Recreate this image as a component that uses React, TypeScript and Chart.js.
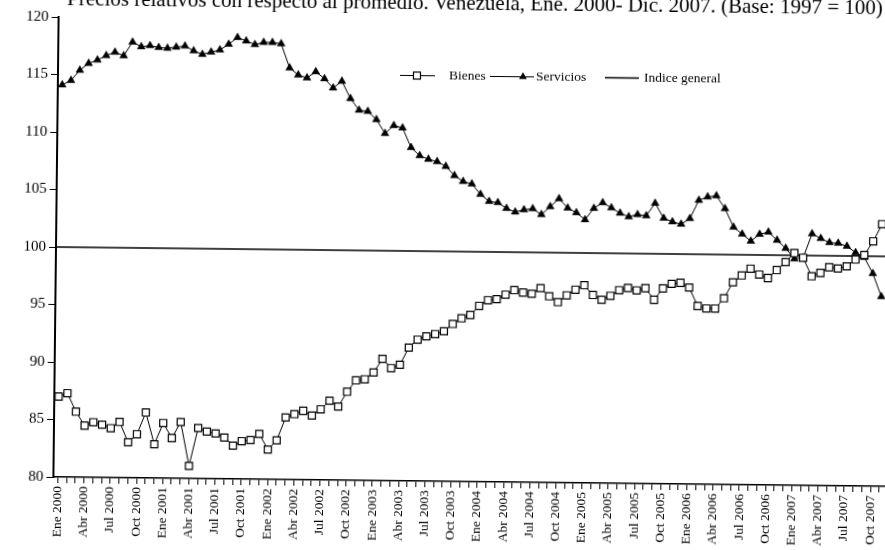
import React, { useEffect, useRef } from "react";
import { Chart, registerables } from "chart.js";

Chart.register(...registerables);

const MONTHS = ["Ene", "Feb", "Mar", "Abr", "May", "Jun", "Jul", "Ago", "Sep", "Oct", "Nov", "Dic"];
const YEARS = [2000, 2001, 2002, 2003, 2004, 2005, 2006, 2007];
const categories: string[] = YEARS.flatMap((y) => MONTHS.map((m) => `${m} ${y}`));

// Monthly values, Ene 2000 onward (the picture is cropped after Nov 2007)
const bienes = [
  87.0, 87.3, 85.7, 84.5, 84.8, 84.6, 84.3, 84.85, 83.1, 83.8, 85.7, 82.95,
  84.8, 83.5, 84.9, 81.1, 84.4, 84.1, 83.95, 83.6, 82.9, 83.3, 83.4, 83.95,
  82.6, 83.4, 85.4, 85.7, 86.0, 85.6, 86.15, 86.9, 86.4, 87.7, 88.7, 88.8,
  89.4, 90.6, 89.8, 90.1, 91.6, 92.3, 92.6, 92.8, 93.05, 93.7, 94.2, 94.5,
  95.3, 95.8, 95.9, 96.3, 96.7, 96.5, 96.4, 96.9, 96.2, 95.7, 96.3, 96.8,
  97.2, 96.35, 95.95, 96.3, 96.8, 97.0, 96.8, 97.0, 96.0, 97.0, 97.4, 97.5,
  97.1, 95.5, 95.3, 95.3, 96.2, 97.6, 98.2, 98.8, 98.3, 98.0, 98.7, 99.4,
  100.2, 99.8, 98.2, 98.5, 99.0, 98.9, 99.1, 99.7, 100.1, 101.3, 102.8,
];

const servicios = [
  114.1, 114.5, 115.4, 116.0, 116.3, 116.7, 117.0, 116.7, 117.9, 117.5, 117.6, 117.45,
  117.4, 117.5, 117.6, 117.2, 116.9, 117.1, 117.3, 117.8, 118.4, 118.1, 117.8, 118.0,
  118.0, 117.9, 115.8, 115.2, 114.95, 115.5, 114.9, 114.1, 114.7, 113.2, 112.2, 112.1,
  111.4, 110.2, 110.9, 110.7, 109.0, 108.3, 108.0, 107.8, 107.4, 106.6, 106.1, 105.9,
  105.0, 104.4, 104.3, 103.8, 103.5, 103.7, 103.8, 103.3, 104.0, 104.7, 103.9, 103.5,
  102.9, 103.9, 104.4, 103.95, 103.5, 103.2, 103.4, 103.3, 104.4, 103.1, 102.8, 102.6,
  103.1, 104.7, 105.0, 105.1, 104.0, 102.4, 101.8, 101.2, 101.8, 102.0, 101.3, 100.6,
  99.7, 99.8, 101.9, 101.5, 101.15, 101.1, 100.85, 100.3, 99.9, 98.5, 96.5,
];

const indiceGeneral = 100;
const yTicks = [80, 85, 90, 95, 100, 105, 110, 115, 120];
const legendLabels = ["Bienes", "Servicios", "Indice general"];
const titleText =
  "Precios relativos con respecto al promedio. Venezuela, Ene. 2000- Dic. 2007. (Base: 1997 = 100)";

const X_MIN = -0.5;
const X_MAX = 95.6;
const FONT = "'Liberation Serif', 'Times New Roman', serif";

const CANVAS_W = 902;
const CANVAS_H = 550;
// the scanned page is turned slightly clockwise
const SCAN_TILT_DEG = 0.65;

function drawTriangle(ctx: CanvasRenderingContext2D, x: number, y: number, r: number) {
  ctx.beginPath();
  ctx.moveTo(x, y - r);
  ctx.lineTo(x + r * 0.866, y + r * 0.5);
  ctx.lineTo(x - r * 0.866, y + r * 0.5);
  ctx.closePath();
  ctx.fill();
}

const inlineLegend = {
  id: "inlineLegend",
  afterDraw(chart: any) {
    const ctx: CanvasRenderingContext2D = chart.ctx;
    ctx.save();
    const y = 71.5;
    ctx.strokeStyle = "#000";
    ctx.fillStyle = "#000";
    ctx.lineWidth = 1;
    ctx.font = `13.5px ${FONT}`;
    ctx.textBaseline = "middle";
    ctx.textAlign = "left";

    // Bienes
    ctx.beginPath();
    ctx.moveTo(398, y);
    ctx.lineTo(433, y);
    ctx.stroke();
    ctx.fillStyle = "#fff";
    ctx.fillRect(411.5, y - 3.5, 7, 7);
    ctx.lineWidth = 1.2;
    ctx.strokeRect(411.5, y - 3.5, 7, 7);
    ctx.fillStyle = "#000";
    ctx.fillText(legendLabels[0], 447, y);

    // Servicios
    ctx.lineWidth = 1;
    ctx.beginPath();
    ctx.moveTo(488, y);
    ctx.lineTo(532, y);
    ctx.stroke();
    drawTriangle(ctx, 521, y, 4.5);
    ctx.fillText(legendLabels[1], 534, y);

    // Indice general
    ctx.lineWidth = 1.6;
    ctx.beginPath();
    ctx.moveTo(603, y);
    ctx.lineTo(637, y);
    ctx.stroke();
    ctx.fillText(legendLabels[2], 642, y);
    ctx.restore();
  },
};

export default function App() {
  const ref = useRef<HTMLCanvasElement | null>(null);

  useEffect(() => {
    if (!ref.current) return;
    const chart = new Chart(ref.current, {
      type: "line",
      data: {
        datasets: [
          {
            label: legendLabels[0],
            data: bienes.map((v, i) => ({ x: i, y: v })),
            borderColor: "#000",
            borderWidth: 1,
            pointStyle: "rect",
            pointRadius: 5,
            pointBackgroundColor: "#fff",
            pointBorderColor: "#000",
            pointBorderWidth: 1.2,
            tension: 0,
          },
          {
            label: legendLabels[1],
            data: servicios.map((v, i) => ({ x: i, y: v })),
            borderColor: "#000",
            borderWidth: 1,
            pointStyle: "triangle",
            pointRadius: 4.5,
            pointBackgroundColor: "#000",
            pointBorderColor: "#000",
            pointBorderWidth: 0.5,
            tension: 0,
          },
          {
            label: legendLabels[2],
            data: [
              { x: X_MIN, y: indiceGeneral },
              { x: X_MAX, y: indiceGeneral },
            ],
            borderColor: "#000",
            borderWidth: 1.6,
            pointRadius: 0,
            tension: 0,
          },
        ],
      },
      options: {
        responsive: false,
        animation: false,
        events: [],
        layout: { padding: { top: 17, left: 0, right: 0, bottom: 0 } },
        plugins: {
          legend: { display: false },
          tooltip: { enabled: false },
          title: { display: false },
        },
        scales: {
          x: {
            type: "linear",
            min: X_MIN,
            max: X_MAX,
            afterBuildTicks: (scale: any) => {
              scale.ticks = categories.map((_, i) => ({ value: i }));
            },
            afterFit: (scale: any) => {
              scale.height = 73;
              scale.paddingLeft = 0;
              scale.paddingRight = 0;
            },
            ticks: {
              autoSkip: false,
              minRotation: 90,
              maxRotation: 90,
              padding: 3,
              color: "#000",
              font: { family: FONT, size: 13.5 },
              callback: (value: any) => {
                const i = Math.round(Number(value));
                return i % 3 === 0 ? categories[i] : "";
              },
            },
            grid: {
              display: true,
              drawOnChartArea: false,
              drawTicks: true,
              tickLength: 6,
              color: "#000",
              lineWidth: 1,
            },
            border: { display: true, color: "#000", width: 1.5 },
          },
          y: {
            type: "linear",
            min: 80,
            max: 120,
            afterBuildTicks: (scale: any) => {
              scale.ticks = yTicks.map((v) => ({ value: v }));
            },
            afterFit: (scale: any) => {
              scale.width = 56;
              scale.paddingTop = 0;
              scale.paddingBottom = 0;
            },
            ticks: {
              padding: 3,
              color: "#000",
              font: { family: FONT, size: 15 },
            },
            grid: {
              display: true,
              drawOnChartArea: false,
              drawTicks: true,
              tickLength: 7,
              color: "#000",
              lineWidth: 1,
            },
            border: { display: true, color: "#000", width: 2 },
          },
        },
      },
      plugins: [inlineLegend],
    });
    return () => chart.destroy();
  }, []);

  return (
    <div
      style={{
        position: "fixed",
        left: 0,
        top: 0,
        width: 885,
        height: 550,
        overflow: "hidden",
        background: "#fff",
      }}
    >
      <div
        style={{
          position: "absolute",
          left: 0,
          top: 0,
          width: CANVAS_W,
          height: CANVAS_H,
          transform: `rotate(${SCAN_TILT_DEG}deg)`,
          transformOrigin: "56px 247px",
        }}
      >
        <canvas
          ref={ref}
          width={CANVAS_W}
          height={CANVAS_H}
          style={{ position: "absolute", left: 0, top: 0, width: CANVAS_W, height: CANVAS_H }}
        />
        <div
          style={{
            position: "absolute",
            right: CANVAS_W - 880,
            top: -12.6,
            whiteSpace: "nowrap",
            fontFamily: FONT,
            fontSize: 21,
            lineHeight: "22px",
            color: "#000",
          }}
        >
          {titleText}
        </div>
      </div>
    </div>
  );
}
